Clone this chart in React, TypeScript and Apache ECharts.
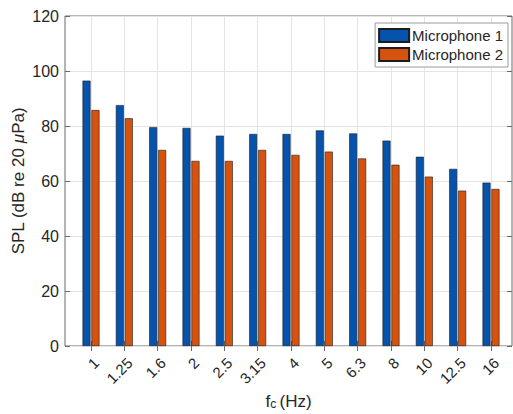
import React, { useEffect, useRef } from "react";
import * as echarts from "echarts";

// One-third-octave centre frequencies (Hz)
const freqLabels = ["1", "1.25", "1.6", "2", "2.5", "3.15", "4", "5", "6.3", "8", "10", "12.5", "16"];
// Sound pressure level per band, dB re 20 µPa
const mic1 = [96.5, 87.6, 79.6, 79.3, 76.5, 77.1, 77.1, 78.4, 77.3, 74.7, 68.8, 64.4, 59.4];
const mic2 = [85.8, 82.8, 71.3, 67.3, 67.3, 71.3, 69.5, 70.7, 68.2, 65.9, 61.6, 56.5, 57.1];
const yTicks = [0, 20, 40, 60, 80, 100, 120];

const FONT = "'Liberation Sans', Arial, Helvetica, sans-serif";
const INK = "#262626";
const FRAME = "#6a6a6a";
const GRIDC = "#e4e4e4";

export default function App() {
  const ref = useRef<HTMLDivElement>(null);

  useEffect(() => {
    if (!ref.current) return;
    const chart = echarts.init(ref.current, null, { renderer: "svg" });
    const positions = freqLabels.map((_, i) => i + 1);

    const xBase = {
      type: "value" as const,
      min: 0.22,
      max: 13.63,
      axisLine: { show: false },
      axisTick: { show: true, inside: true, length: 5, customValues: positions, lineStyle: { color: FRAME } },
      splitLine: { show: false },
    };

    chart.setOption({
      animation: false,
      textStyle: { fontFamily: FONT },
      grid: {
        left: 65,
        right: 1,
        top: 16,
        bottom: 68,
        containLabel: false,
        outerBoundsMode: "none",
        show: true,
        borderColor: FRAME,
        borderWidth: 1,
        backgroundColor: "transparent",
      },
      legend: {
        right: 5,
        top: 23,
        orient: "vertical",
        icon: "rect",
        itemWidth: 30,
        itemHeight: 13,
        itemGap: 4,
        padding: [5, 5, 5, 3],
        borderColor: "#9a9a9a",
        borderWidth: 1,
        backgroundColor: "#ffffff",
        textStyle: { fontFamily: FONT, fontSize: 15, color: INK, padding: [0, 0, 0, -2] },
        data: ["Microphone 1", "Microphone 2"],
      },
      xAxis: [
        {
          ...xBase,
          position: "bottom",
          splitLine: { show: true, lineStyle: { color: GRIDC, width: 1 } },
          axisLabel: {
            show: true,
            customValues: positions,
            formatter: (v: number) => freqLabels[Math.round(v) - 1] ?? "",
            rotate: 45,
            margin: 9,
            verticalAlign: "top",
            fontSize: 15,
            color: INK,
            fontFamily: FONT,
          },
          name: "{f|f}{c|c} {f|(Hz)}",
          nameLocation: "middle",
          nameGap: 47,
          nameTextStyle: {
            rich: {
              f: { fontSize: 17, color: INK, fontFamily: FONT },
              c: { fontSize: 12, color: INK, fontFamily: FONT, verticalAlign: "bottom", padding: [5, 0, 0, 0] },
            },
          },
        },
        {
          ...xBase,
          position: "top",
          axisLabel: { show: false },
        },
      ],
      yAxis: [
        {
          type: "value",
          min: 0,
          max: 120,
          interval: 20,
          position: "left",
          axisLine: { show: false },
          axisTick: { show: true, inside: true, length: 5, lineStyle: { color: FRAME } },
          splitLine: { show: true, lineStyle: { color: GRIDC, width: 1 } },
          axisLabel: {
            margin: 6,
            fontSize: 16,
            color: INK,
            fontFamily: FONT,
            customValues: yTicks,
          },
          name: "{t|SPL (dB re 20 }{m|μ}{t|Pa)}",
          nameLocation: "middle",
          nameMoveOverlap: false,
          nameGap: 38,
          nameRotate: 90,
          nameTextStyle: {
            rich: {
              t: { fontSize: 17, color: INK, fontFamily: FONT },
              m: { fontSize: 17, color: INK, fontFamily: FONT, fontStyle: "italic" },
            },
          },
        },
        {
          type: "value",
          min: 0,
          max: 120,
          interval: 20,
          position: "right",
          axisLine: { show: false },
          axisTick: { show: true, inside: true, length: 5, lineStyle: { color: FRAME } },
          splitLine: { show: false },
          axisLabel: { show: false },
        },
      ],
      series: [
        {
          name: "Microphone 1",
          type: "bar",
          xAxisIndex: 0,
          yAxisIndex: 0,
          barWidth: 8,
          barGap: "12%",
          data: mic1.map((v, i) => [positions[i], v]),
          itemStyle: { color: "#0553ad", borderColor: "#1c1c1c", borderWidth: 0.6 },
        },
        {
          name: "Microphone 2",
          type: "bar",
          xAxisIndex: 0,
          yAxisIndex: 0,
          barWidth: 8,
          barGap: "12%",
          data: mic2.map((v, i) => [positions[i], v]),
          itemStyle: { color: "#d6530f", borderColor: "#1c1c1c", borderWidth: 0.6 },
        },
      ],
    });

    return () => chart.dispose();
  }, []);

  return (
    <div
      ref={ref}
      style={{ position: "fixed", left: 0, top: 0, width: 513, height: 414, background: "#ffffff" }}
    />
  );
}
